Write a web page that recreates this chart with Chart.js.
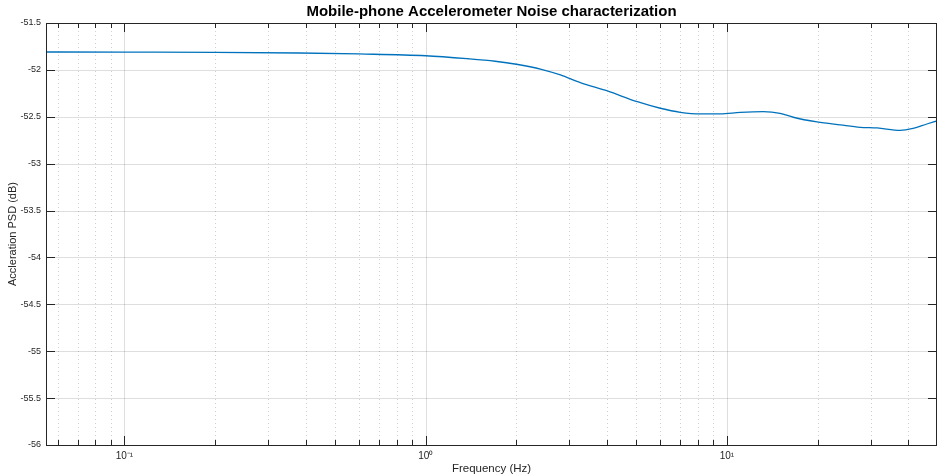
<!DOCTYPE html>
<html>
<head>
<meta charset="utf-8">
<script src="https://cdn.jsdelivr.net/npm/chart.js@4/dist/chart.umd.min.js"></script>
<style>
  html, body { margin: 0; padding: 0; background: #fff; }
  #wrap { width: 938px; height: 476px; }
</style>
</head>
<body>
<div id="wrap"><canvas id="canvas" width="938" height="476"></canvas></div>
<script>
// frequency (Hz) and PSD (dB)
var freq = [0.0549, 0.1, 0.2, 0.38, 0.6, 1.0, 1.38, 1.7, 2.0, 2.42, 2.8, 3.26, 4.01, 5.04,
    6.01, 7.0, 8.15, 9.5, 11.07, 13.2, 15.0, 16.6, 19.9, 23.8, 27.7, 31.5, 37.6, 41.5, 46.1, 49.8];
var psd = [-51.809, -51.811, -51.813, -51.820, -51.830, -51.849, -51.881, -51.908, -51.940, -51.994,
    -52.054, -52.136, -52.225, -52.339, -52.409, -52.452, -52.470, -52.470, -52.454, -52.446,
    -52.463, -52.505, -52.555, -52.587, -52.612, -52.619, -52.644, -52.623, -52.577, -52.545];

var xMin = 0.0549, xMax = 49.8;
var yMin = -56, yMax = -51.5, yStep = 0.5;
var xTickValues = [0.06, 0.07, 0.08, 0.09, 0.1, 0.2, 0.3, 0.4, 0.5, 0.6, 0.7, 0.8, 0.9,
    1, 2, 3, 4, 5, 6, 7, 8, 9, 10, 20, 30, 40, 50];
var decadeLabels = { '0.1': '10\u207B\u00B9', '1': '10\u2070', '10': '10\u00B9' };

var points = freq.map(function(f, i) { return { x: f, y: psd[i] }; });

function isDecade(v) {
    var l = Math.log10(v);
    return Math.abs(l - Math.round(l)) < 1e-9;
}

var axesBox = {
    id: 'axesBox',
    beforeDatasetsDraw: function(chart) {
        var c = chart.ctx, a = chart.chartArea;
        var xs = chart.scales.x, ys = chart.scales.y;
        c.save();
        c.lineWidth = 1;
        xTickValues.forEach(function(v) {
            if (v < xMin || v > xMax) return;
            var px = Math.round(xs.getPixelForValue(v)) + 0.5;
            c.strokeStyle = isDecade(v) ? 'rgba(0,0,0,0.13)' : 'rgba(0,0,0,0.18)';
            c.setLineDash(isDecade(v) ? [] : [1, 3]);
            c.beginPath(); c.moveTo(px, a.top); c.lineTo(px, a.bottom); c.stroke();
        });
        c.setLineDash([]);
        c.strokeStyle = 'rgba(0,0,0,0.13)';
        for (var v = yMin; v <= yMax + 1e-9; v += yStep) {
            var py = Math.round(ys.getPixelForValue(v)) + 0.5;
            c.beginPath(); c.moveTo(a.left, py); c.lineTo(a.right, py); c.stroke();
        }
        c.restore();
    },
    afterDatasetsDraw: function(chart) {
        var c = chart.ctx, a = chart.chartArea;
        var xs = chart.scales.x, ys = chart.scales.y;
        c.save();
        c.strokeStyle = '#262626';
        c.lineWidth = 1;
        c.strokeRect(Math.round(a.left) + 0.5, Math.round(a.top) + 0.5,
            Math.round(a.right - a.left) - 1, Math.round(a.bottom - a.top));
        c.beginPath();
        xTickValues.forEach(function(v) {
            if (v < xMin || v > xMax) return;
            var px = Math.round(xs.getPixelForValue(v)) + 0.5;
            var len = isDecade(v) ? 9 : 5;
            c.moveTo(px, a.bottom); c.lineTo(px, a.bottom - len);
            c.moveTo(px, a.top); c.lineTo(px, a.top + len);
        });
        for (var v = yMin; v <= yMax + 1e-9; v += yStep) {
            var py = Math.round(ys.getPixelForValue(v)) + 0.5;
            c.moveTo(a.left, py); c.lineTo(a.left + 9, py);
            c.moveTo(a.right, py); c.lineTo(a.right - 9, py);
        }
        c.stroke();
        c.restore();
    }
};

window.onload = function() {
    var ctx = document.getElementById('canvas').getContext('2d');
    window.myChart = new Chart(ctx, {
        type: 'line',
        data: {
            datasets: [{
                label: 'PSD',
                data: points,
                borderColor: '#0072BD',
                borderWidth: 1.3,
                pointRadius: 0,
                fill: false,
                cubicInterpolationMode: 'monotone'
            }]
        },
        options: {
            responsive: false,
            animation: false,
            layout: { padding: { left: 0, right: 1, top: 0, bottom: 0 } },
            plugins: {
                legend: { display: false },
                tooltip: { enabled: false },
                title: {
                    display: true,
                    fullSize: false,
                    text: 'Mobile-phone Accelerometer Noise characterization',
                    color: '#000',
                    font: { family: 'Liberation Sans, Arial, sans-serif', size: 15, weight: 'bold' },
                    padding: { top: 3, bottom: 2 }
                }
            },
            scales: {
                x: {
                    type: 'logarithmic',
                    min: xMin,
                    max: xMax,
                    grid: { display: false, drawTicks: false },
                    border: { display: false },
                    afterBuildTicks: function(scale) {
                        scale.ticks = xTickValues.map(function(v) { return { value: v }; });
                    },
                    afterFit: function(scale) {
                        scale.height = 31;
                        scale.paddingLeft = 0;
                        scale.paddingRight = 0;
                    },
                    ticks: {
                        autoSkip: false,
                        maxRotation: 0,
                        padding: 5,
                        color: '#262626',
                        font: { family: 'Liberation Sans, Arial, sans-serif', size: 10 },
                        callback: function(v) {
                            return decadeLabels[String(v)] || '';
                        }
                    },
                    title: {
                        display: true,
                        text: 'Frequency (Hz)',
                        color: '#262626',
                        font: { family: 'Liberation Sans, Arial, sans-serif', size: 11.5 },
                        padding: { top: 0, bottom: 0 }
                    }
                },
                y: {
                    min: yMin,
                    max: yMax,
                    grid: { display: false, drawTicks: false },
                    border: { display: false },
                    afterFit: function(scale) { scale.width = 46; },
                    ticks: {
                        stepSize: yStep,
                        padding: 5,
                        color: '#262626',
                        font: { family: 'Liberation Sans, Arial, sans-serif', size: 9 },
                        callback: function(v) { return String(Number(v.toFixed(1))); }
                    },
                    title: {
                        display: true,
                        text: 'Accleration PSD (dB)',
                        color: '#262626',
                        font: { family: 'Liberation Sans, Arial, sans-serif', size: 11 },
                        padding: { top: 6, bottom: 0 }
                    }
                }
            }
        },
        plugins: [axesBox]
    });
};
</script>
</body>
</html>
